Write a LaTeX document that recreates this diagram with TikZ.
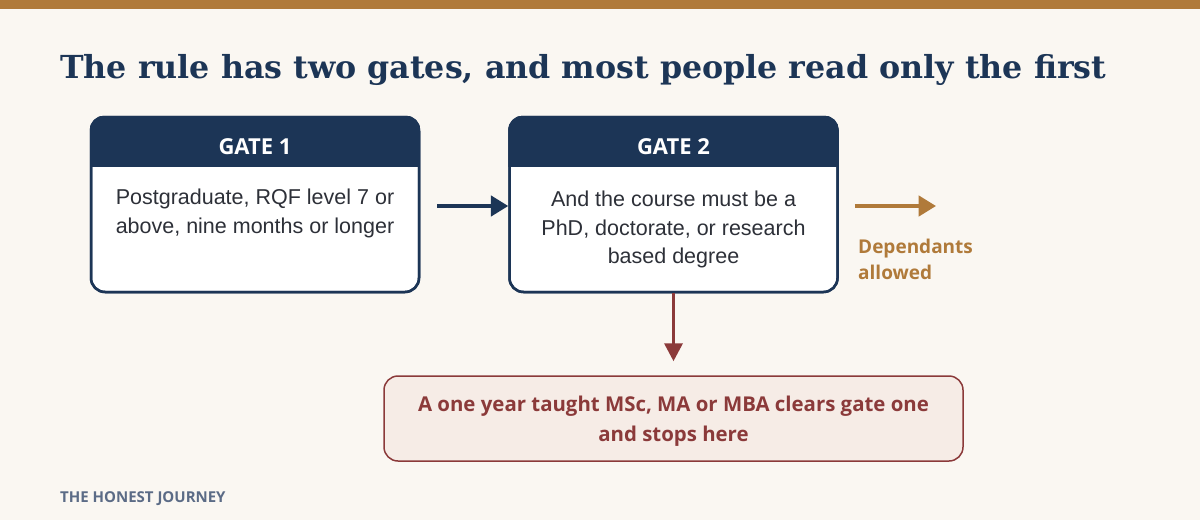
\documentclass[tikz,border=0pt]{standalone}
\usepackage{fontspec}
\setmainfont{Liberation Sans}
\newfontfamily\titlefont{DejaVu Serif}
\newfontfamily\uifont{Open Sans}
\usetikzlibrary{arrows.meta,positioning}

\definecolor{navy}{HTML}{1C3556}
\definecolor{gold}{HTML}{B07A3A}
\definecolor{stopred}{HTML}{8B3A3A}
\definecolor{stopfill}{HTML}{F6ECE6}
\definecolor{paper}{HTML}{FAF7F2}
\definecolor{bodytext}{HTML}{2D3038}
\definecolor{brandgray}{HTML}{5B6B86}

\tikzset{
    gatebox/.style={draw=navy, line width=2.5pt, fill=white, rounded corners=14pt,
        minimum width=328pt, minimum height=175pt, inner sep=0pt},
    gatehead/.style={text=white, anchor=base, inner sep=0pt,
        font=\uifont\bfseries\fontsize{22}{26}\selectfont},
    gatetext/.style={text=bodytext, align=center, anchor=north, inner sep=0pt,
        font=\fontsize{21.5}{28.5}\selectfont},
    flowarrow/.style={line width=3.5pt, -{Triangle[length=17.5pt,width=20.5pt]}},
}

\begin{document}
\begin{tikzpicture}[x=1pt, y=-1pt]
    \useasboundingbox (0,0) rectangle (1200,520);
    \fill[paper] (0,0) rectangle (1200,520);
    \fill[gold] (0,0) rectangle (1200,9);

    % title
    \node[anchor=base west, inner sep=0pt, text=navy,
        font=\titlefont\bfseries\fontsize{31.7}{38}\selectfont] (title) at (60,78)
        {The rule has two gates, and most people read only the first};

    % the two gates
    \foreach \g/\cx/\lbl in {g1/255/GATE 1, g2/673.5/GATE 2} {
        \node[gatebox] (\g) at (\cx,204.5) {};
        \begin{scope}
            \clip[rounded corners=14pt] (\g.north west) rectangle (\g.south east);
            \fill[navy] (\g.north west) rectangle ([yshift=-51pt]\g.north east);
        \end{scope}
        \node[gatebox, fill=none] at (\g) {};
        \node[gatehead] (\g head) at ([yshift=-39pt]\g.north) {\lbl};
    }
    \node[gatetext] (g1text) at ([yshift=-73pt]g1.north)
        {Postgraduate, RQF level 7 or\\above, nine months or longer};
    \node[gatetext] (g2text) at ([yshift=-75pt]g2.north)
        {And the course must be a\\PhD, doctorate, or research\\based degree};

    % where a taught course stops
    \node[draw=stopred, line width=1.5pt, fill=stopfill, rounded corners=14pt,
        minimum width=579pt, minimum height=85pt] (stop) at (673.5,418.5) {};
    \node[align=center, text=stopred, inner sep=0pt,
        font=\uifont\bfseries\fontsize{20.4}{30}\selectfont] (stoptext)
        at ([yshift=-3pt]stop.center)
        {A one year taught MSc, MA or MBA clears gate one\\and stops here};

    % outcome
    \coordinate (dep) at (936,206);
    \node[anchor=north west, inner sep=0pt, align=left, text=gold,
        font=\uifont\bfseries\fontsize{19}{25.5}\selectfont] (depnote) at (858,239)
        {Dependants\\allowed};

    % connectors
    \draw[flowarrow, navy] ([xshift=17pt,yshift=-1.5pt]g1.east) -- ([yshift=-1.5pt]g2.west);
    \draw[flowarrow, gold] ([xshift=16pt,yshift=-1.5pt]g2.east) -- (dep);
    \draw[line width=3.5pt, stopred, -{Triangle[length=18pt,width=18pt]}]
        (g2.south) -- ([yshift=14pt]stop.north);

    % footer
    \node[anchor=base west, inner sep=0pt, text=brandgray,
        font=\uifont\bfseries\fontsize{15}{18}\selectfont] (brand) at (60,502)
        {THE HONEST JOURNEY};
\end{tikzpicture}
\end{document}
